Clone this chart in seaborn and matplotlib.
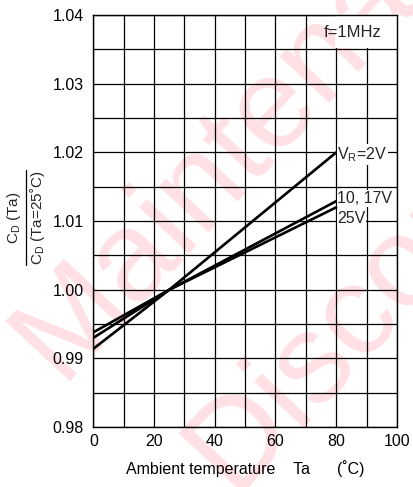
import pandas as pd
import matplotlib.pyplot as plt
import seaborn as sns
from matplotlib.ticker import MultipleLocator
from matplotlib.patches import Rectangle

# ── Data ──────────────────────────────────────────────────────
temperature = [0, 25, 80]
cd_2v = [0.9914, 1.000, 1.020]
cd_10_17v = [0.9930, 1.000, 1.0129]
cd_25v = [0.9938, 1.000, 1.0120]

series = ["2V", "10, 17V", "25V"]
df = pd.DataFrame({
    "Ta": temperature * 3,
    "ratio": cd_2v + cd_10_17v + cd_25v,
    "VR": [s for s in series for _ in temperature],
})

sns.set_theme(style="white")
plt.rcParams['font.family'] = ['Liberation Sans', 'DejaVu Sans']
plt.rcParams['mathtext.fontset'] = 'custom'
plt.rcParams['mathtext.rm'] = 'Liberation Sans'

FS = 11.5

fig = plt.figure(figsize=(4.13, 4.87), dpi=100)
ax = fig.add_axes([0.226, 0.123, 0.735, 0.846])

# watermark
wm = dict(color='#ffe0e4', fontsize=92, rotation=47,
          ha='left', va='bottom', zorder=-1)
fig.text(-0.02, 0.18, "Maintenance", **wm)
fig.text(0.40, -0.05, "Discontinued", **wm)
ax.set_facecolor('none')

sns.lineplot(data=df, x="Ta", y="ratio", hue="VR", palette=["black"] * 3,
             linewidth=1.9, legend=False, ax=ax, zorder=3)

ax.set_xlim(0, 100)
ax.set_ylim(0.98, 1.04)
ax.xaxis.set_major_locator(MultipleLocator(20))
ax.xaxis.set_minor_locator(MultipleLocator(10))
ax.yaxis.set_major_locator(MultipleLocator(0.01))
ax.yaxis.set_minor_locator(MultipleLocator(0.005))
ax.yaxis.set_major_formatter(plt.FormatStrFormatter('%.2f'))
ax.set_axisbelow(True)
ax.grid(which='both', color='black', linewidth=0.9)
ax.tick_params(which='both', length=0, labelsize=FS, colors='black')
ax.tick_params(axis='y', pad=7)
ax.tick_params(axis='x', pad=5)
for sp in ax.spines.values():
    sp.set_color('black')
    sp.set_linewidth(1.0)
    sp.set_zorder(4)

ax.set_xlabel("Ambient temperature    Ta      (˚C)", fontsize=FS, color='black', labelpad=8)
ax.set_ylabel("")

# cover the grid in the top-right cell for the condition label
ax.add_patch(Rectangle((79.6, 1.0352), 20.3, 0.0047, facecolor='white',
                       edgecolor='none', zorder=1))
ax.text(95, 1.0375, "f=1MHz", ha='right', va='center', fontsize=12, zorder=5)

box = dict(facecolor='white', edgecolor='none', pad=0.6)
ax.text(80.4, 1.0197, "V$_\\mathrm{R}$=2V", ha='left', va='center',
        fontsize=FS, bbox=box, zorder=5)
ax.text(80.4, 1.0133, "10, 17V", ha='left', va='center',
        fontsize=FS, bbox=box, zorder=5)
ax.text(80.4, 1.0104, "25V", ha='left', va='center',
        fontsize=FS, bbox=box, zorder=5)

# y label as a fraction
fig.text(0.035, 0.552, "C$_\\mathrm{D}$ (Ta)", rotation=90, ha='center',
         va='center', fontsize=11)
fig.text(0.092, 0.552, "C$_\\mathrm{D}$ (Ta=25˚C)", rotation=90, ha='center',
         va='center', fontsize=11)
fig.add_artist(plt.Line2D([0.064, 0.064], [0.455, 0.650], color='black',
                          linewidth=0.9))

plt.savefig('out.png', dpi=100)
